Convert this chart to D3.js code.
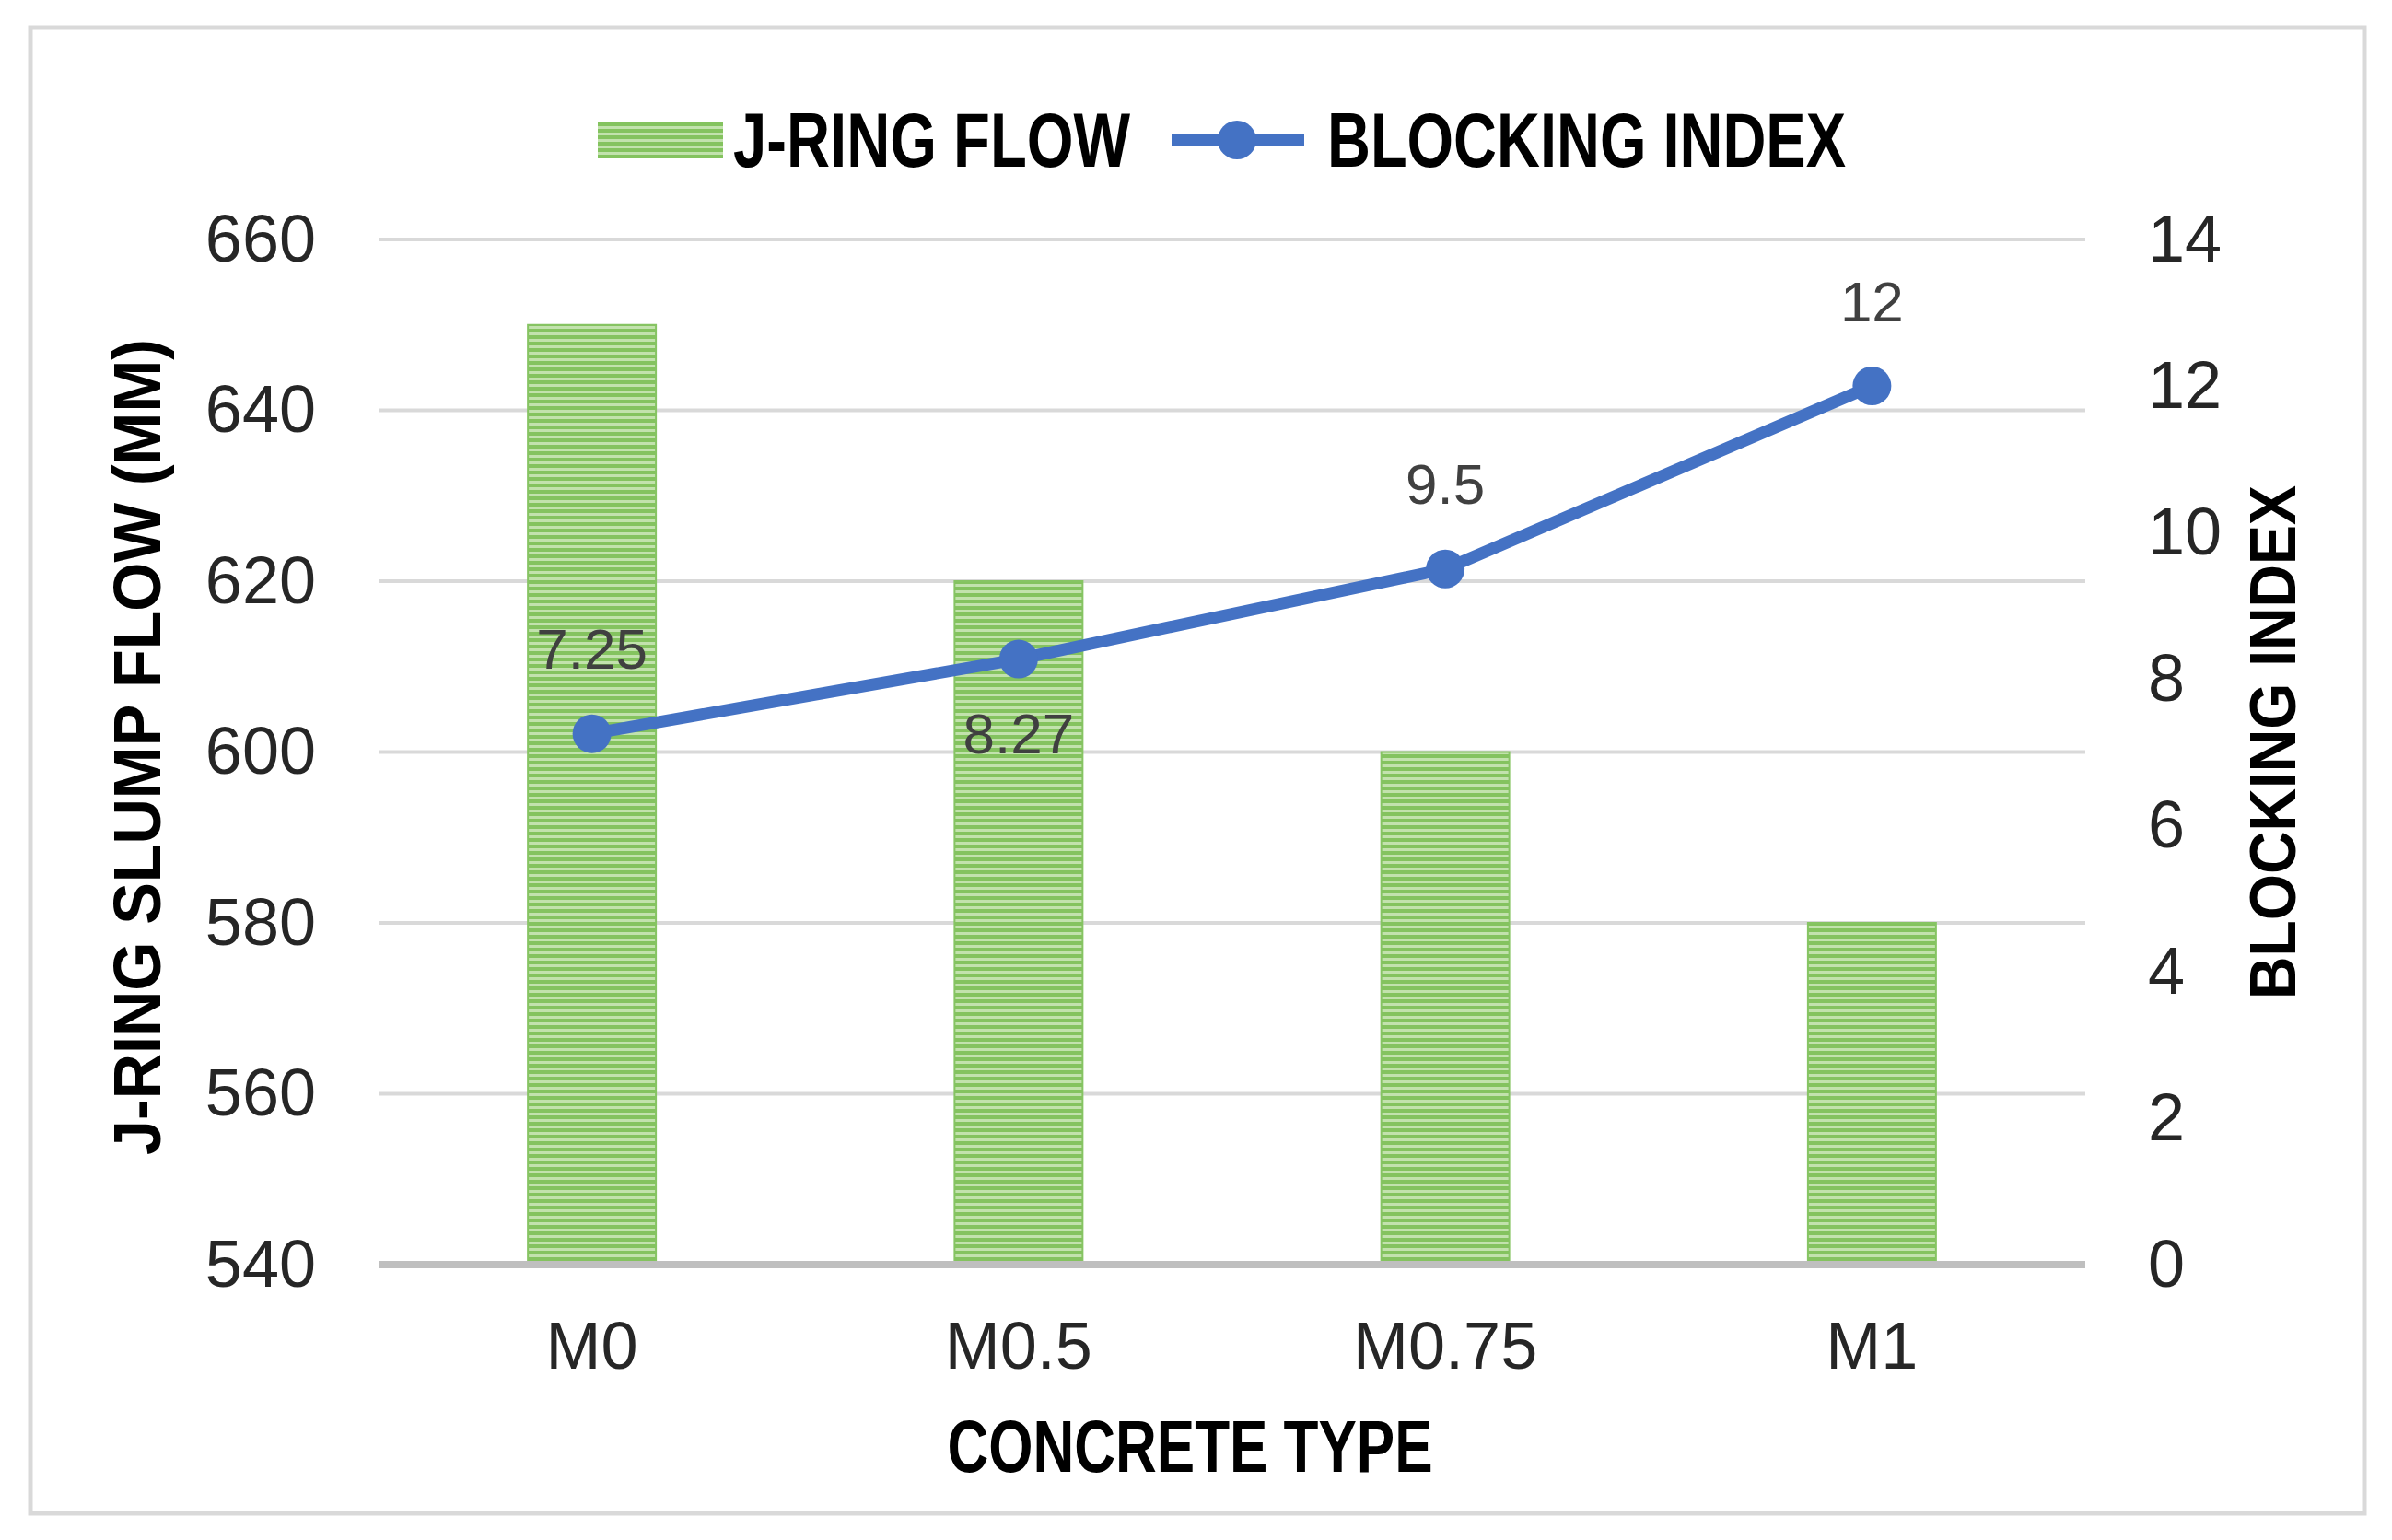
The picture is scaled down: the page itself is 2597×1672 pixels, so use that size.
<html>
<head>
  <script src="https://d3js.org/d3.v7.min.js"></script>
  <style>
    body{ margin:0; background:#fff; }
    svg{ display:block; }
    text{ font-family:"Liberation Sans Narrow","Liberation Sans",Arial,sans-serif; }
  </style>
</head>
<body>
  <script type="text/javascript">
    var categories=["M0","M0.5","M0.75","M1"];
    var flowValues=[650,620,600,580];
    var blockingValues=[7.25,8.27,9.5,12];
    var leftTicks=[540,560,580,600,620,640,660];
    var rightTicks=[0,2,4,6,8,10,12,14];
    // label above (-1) or below (+1) the point
    var labelSide=[-1,1,-1,-1];

    var width=2597;
    var height=1672;
    var plotLeft=411, plotRight=2264, plotTop=260, plotBottom=1373;

    var svg=d3.select("body").append("svg")
              .attr("width",width)
              .attr("height",height);

    var defs=svg.append("defs");
    var pat=defs.append("pattern")
       .attr("id","stripes")
       .attr("patternUnits","userSpaceOnUse")
       .attr("width",8).attr("height",7);
    pat.append("rect").attr("width",8).attr("height",7).attr("fill","#c2e2ad");
    pat.append("rect").attr("width",8).attr("height",4).attr("fill","#84c35f");

    // outer frame
    svg.append("rect")
       .attr("x",33).attr("y",30)
       .attr("width",2534).attr("height",1613)
       .attr("fill","#fff")
       .attr("stroke","#d9d9d9")
       .attr("stroke-width",5);

    var x=d3.scaleBand().domain(categories).range([plotLeft,plotRight]).paddingInner(0.7).paddingOuter(0.35);
    var xc=function(d){ return x(d)+x.bandwidth()/2; };
    var yL=d3.scaleLinear().domain([540,660]).range([plotBottom,plotTop]);
    var yR=d3.scaleLinear().domain([0,14]).range([plotBottom,plotTop]);

    // gridlines
    svg.append("g").selectAll("line")
       .data(leftTicks.slice(1))
       .enter().append("line")
       .attr("x1",plotLeft).attr("x2",plotRight)
       .attr("y1",function(d){ return yL(d); })
       .attr("y2",function(d){ return yL(d); })
       .attr("stroke","#d9d9d9")
       .attr("stroke-width",4);

    // bars
    svg.append("g").selectAll("rect")
       .data(flowValues)
       .enter().append("rect")
       .attr("x",function(d,i){ return x(categories[i]); })
       .attr("y",function(d){ return yL(d); })
       .attr("width",x.bandwidth())
       .attr("height",function(d){ return plotBottom-yL(d); })
       .attr("fill","url(#stripes)")
       .attr("stroke","#86c463")
       .attr("stroke-width",2);

    // baseline
    svg.append("line")
       .attr("x1",plotLeft).attr("x2",plotRight)
       .attr("y1",plotBottom).attr("y2",plotBottom)
       .attr("stroke","#bfbfbf")
       .attr("stroke-width",8);

    var tickFont="'Liberation Sans Narrow','Liberation Sans',sans-serif";

    // left axis labels
    var axL=svg.append("g")
       .attr("transform","translate("+(343+12)+",0)")
       .call(d3.axisLeft(yL).tickValues(leftTicks).tickSize(0).tickPadding(12));
    axL.select(".domain").remove();
    axL.selectAll("text").attr("font-size",72).attr("fill","#262626").attr("font-family",tickFont);

    // right axis labels
    var axR=svg.append("g")
       .attr("transform","translate("+(2332-12)+",0)")
       .call(d3.axisRight(yR).tickValues(rightTicks).tickSize(0).tickPadding(12));
    axR.select(".domain").remove();
    axR.selectAll("text").attr("font-size",72).attr("fill","#262626").attr("font-family",tickFont);

    // x axis labels
    var axX=svg.append("g")
       .attr("transform","translate(0,"+(plotBottom+50)+")")
       .call(d3.axisBottom(x).tickSize(0).tickPadding(12));
    axX.select(".domain").remove();
    axX.selectAll("text").attr("font-size",72).attr("fill","#262626").attr("font-family",tickFont);

    // line
    var line=d3.line()
       .x(function(d,i){ return xc(categories[i]); })
       .y(function(d){ return yR(d); });
    svg.append("path")
       .datum(blockingValues)
       .attr("d",line)
       .attr("fill","none")
       .attr("stroke","#4472c4")
       .attr("stroke-width",13)
       .attr("stroke-linejoin","round");
    svg.append("g").selectAll("circle")
       .data(blockingValues)
       .enter().append("circle")
       .attr("cx",function(d,i){ return xc(categories[i]); })
       .attr("cy",function(d){ return yR(d); })
       .attr("r",21)
       .attr("fill","#4472c4");

    // data labels
    svg.append("g").selectAll("text")
       .data(blockingValues)
       .enter().append("text")
       .text(function(d){ return d; })
       .attr("x",function(d,i){ return xc(categories[i]); })
       .attr("y",function(d,i){ return yR(d)+(labelSide[i]<0?-92:81); })
       .attr("dy","0.35em")
       .attr("text-anchor","middle")
       .attr("font-size",62)
       .attr("fill","#404040");

    // axis titles
    svg.append("text")
       .text("CONCRETE TYPE")
       .attr("x",1292).attr("y",1570)
       .attr("dy","0.35em")
       .attr("text-anchor","middle")
       .attr("font-size",80)
       .attr("font-weight","bold")
       .attr("textLength",527)
       .attr("lengthAdjust","spacingAndGlyphs");

    svg.append("text")
       .text("J-RING SLUMP FLOW (MM)")
       .attr("transform","translate(149,811) rotate(-90)")
       .attr("dy","0.35em")
       .attr("text-anchor","middle")
       .attr("font-family","'DejaVu Sans',sans-serif")
       .attr("font-size",72)
       .attr("font-weight","bold")
       .attr("textLength",886)
       .attr("lengthAdjust","spacingAndGlyphs");

    svg.append("text")
       .text("BLOCKING INDEX")
       .attr("transform","translate(2467,806) rotate(-90)")
       .attr("dy","0.35em")
       .attr("text-anchor","middle")
       .attr("font-family","'DejaVu Sans',sans-serif")
       .attr("font-size",70)
       .attr("font-weight","bold")
       .attr("textLength",558)
       .attr("lengthAdjust","spacingAndGlyphs");

    // legend
    var lg=svg.append("g");
    lg.append("rect")
      .attr("x",649).attr("y",132)
      .attr("width",136).attr("height",40)
      .attr("fill","url(#stripes)");
    lg.append("text")
      .text("J-RING FLOW")
      .attr("x",796).attr("y",152)
      .attr("dy","0.35em")
      .attr("font-size",84)
      .attr("font-weight","bold")
      .attr("textLength",431)
      .attr("lengthAdjust","spacingAndGlyphs");
    lg.append("line")
      .attr("x1",1272).attr("x2",1416)
      .attr("y1",152).attr("y2",152)
      .attr("stroke","#4472c4")
      .attr("stroke-width",12);
    lg.append("circle")
      .attr("cx",1343).attr("cy",152).attr("r",21)
      .attr("fill","#4472c4");
    lg.append("text")
      .text("BLOCKING INDEX")
      .attr("x",1441).attr("y",152)
      .attr("dy","0.35em")
      .attr("font-size",84)
      .attr("font-weight","bold")
      .attr("textLength",563)
      .attr("lengthAdjust","spacingAndGlyphs");
  </script>
</body>
</html>
